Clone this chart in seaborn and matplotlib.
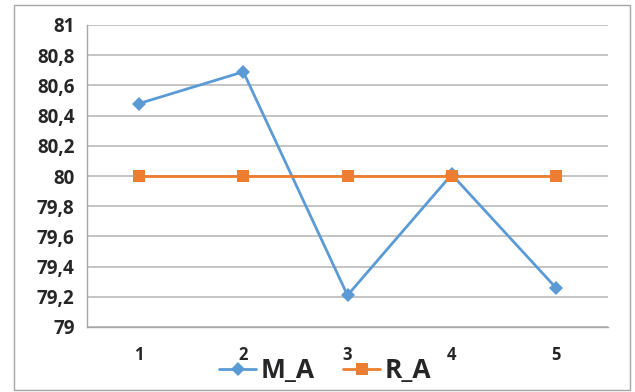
import pandas as pd
import seaborn as sns
import matplotlib.pyplot as plt
from matplotlib.patches import Rectangle

# data
runs = [1, 2, 3, 4, 5]
m_a = [80.48, 80.69, 79.21, 80.01, 79.26]
r_a = [80.0, 80.0, 80.0, 80.0, 80.0]
series_names = ['M_A', 'R_A']
y_ticks = [79, 79.2, 79.4, 79.6, 79.8, 80, 80.2, 80.4, 80.6, 80.8, 81]

df = pd.DataFrame({
    'run': runs * 2,
    'value': m_a + r_a,
    'series': [series_names[0]] * len(runs) + [series_names[1]] * len(runs),
})

sns.set_style('white')
plt.rcParams['font.family'] = ['Open Sans', 'DejaVu Sans']

fig = plt.figure(figsize=(6.35, 3.92), dpi=100)
ax = fig.add_axes([87 / 635, 1 - 327 / 392, (608 - 87) / 635, (327 - 25) / 392])

palette = {'M_A': '#5B9BD5', 'R_A': '#ED7D31'}
sns.lineplot(data=df, x='run', y='value', hue='series', style='series',
             markers={'M_A': 'D', 'R_A': 's'}, dashes=False, palette=palette,
             linewidth=2, markersize=7, markeredgewidth=0, ax=ax, legend=False)
# bigger square for R_A
for line in ax.get_lines():
    if line.get_marker() == 's':
        line.set_markersize(9)

ax.set_xlim(0.5, 5.5)
ax.set_ylim(79, 81)
ax.set_yticks(y_ticks)
ax.set_yticklabels([('%g' % v).replace('.', ',') for v in y_ticks],
                   fontsize=13.5, fontweight='bold')
ax.set_xticks(runs)
ax.set_xticklabels([str(r) for r in runs], fontsize=12, fontweight='bold')
ax.tick_params(axis='x', length=0, pad=14)
ax.set_xticks([0.5, 1.5, 2.5, 3.5, 4.5, 5.5], minor=True)
ax.tick_params(axis='x', which='minor', length=5, color='#A6A6A6', direction='out')
ax.tick_params(axis='y', length=5, color='#A6A6A6', direction='out', pad=4)
ax.yaxis.grid(True, color='#BFBFBF', linewidth=1.3)
ax.set_axisbelow(True)
ax.set_xlabel('')
ax.set_ylabel('')
for side in ['top', 'right']:
    ax.spines[side].set_visible(False)
for side in ['left', 'bottom']:
    ax.spines[side].set_color('#A6A6A6')
    ax.spines[side].set_linewidth(1)

handles = [plt.Line2D([], [], color=palette[n], marker=m, markersize=ms,
                      markeredgewidth=0, linewidth=2)
           for n, m, ms in zip(series_names, ['D', 's'], [7, 9])]
fig.legend(handles, series_names, loc='lower center', bbox_to_anchor=(0.512, -0.04),
           ncol=2, frameon=False, prop={'size': 19, 'weight': 'bold'},
           handlelength=1.4, handletextpad=0.15, columnspacing=1.1)

fig.patches.append(Rectangle((14 / 635, 2 / 392), 616 / 635, 385 / 392,
                             transform=fig.transFigure, fill=False,
                             edgecolor='#A6A6A6', linewidth=1))

fig.savefig('out.png', dpi=100)
